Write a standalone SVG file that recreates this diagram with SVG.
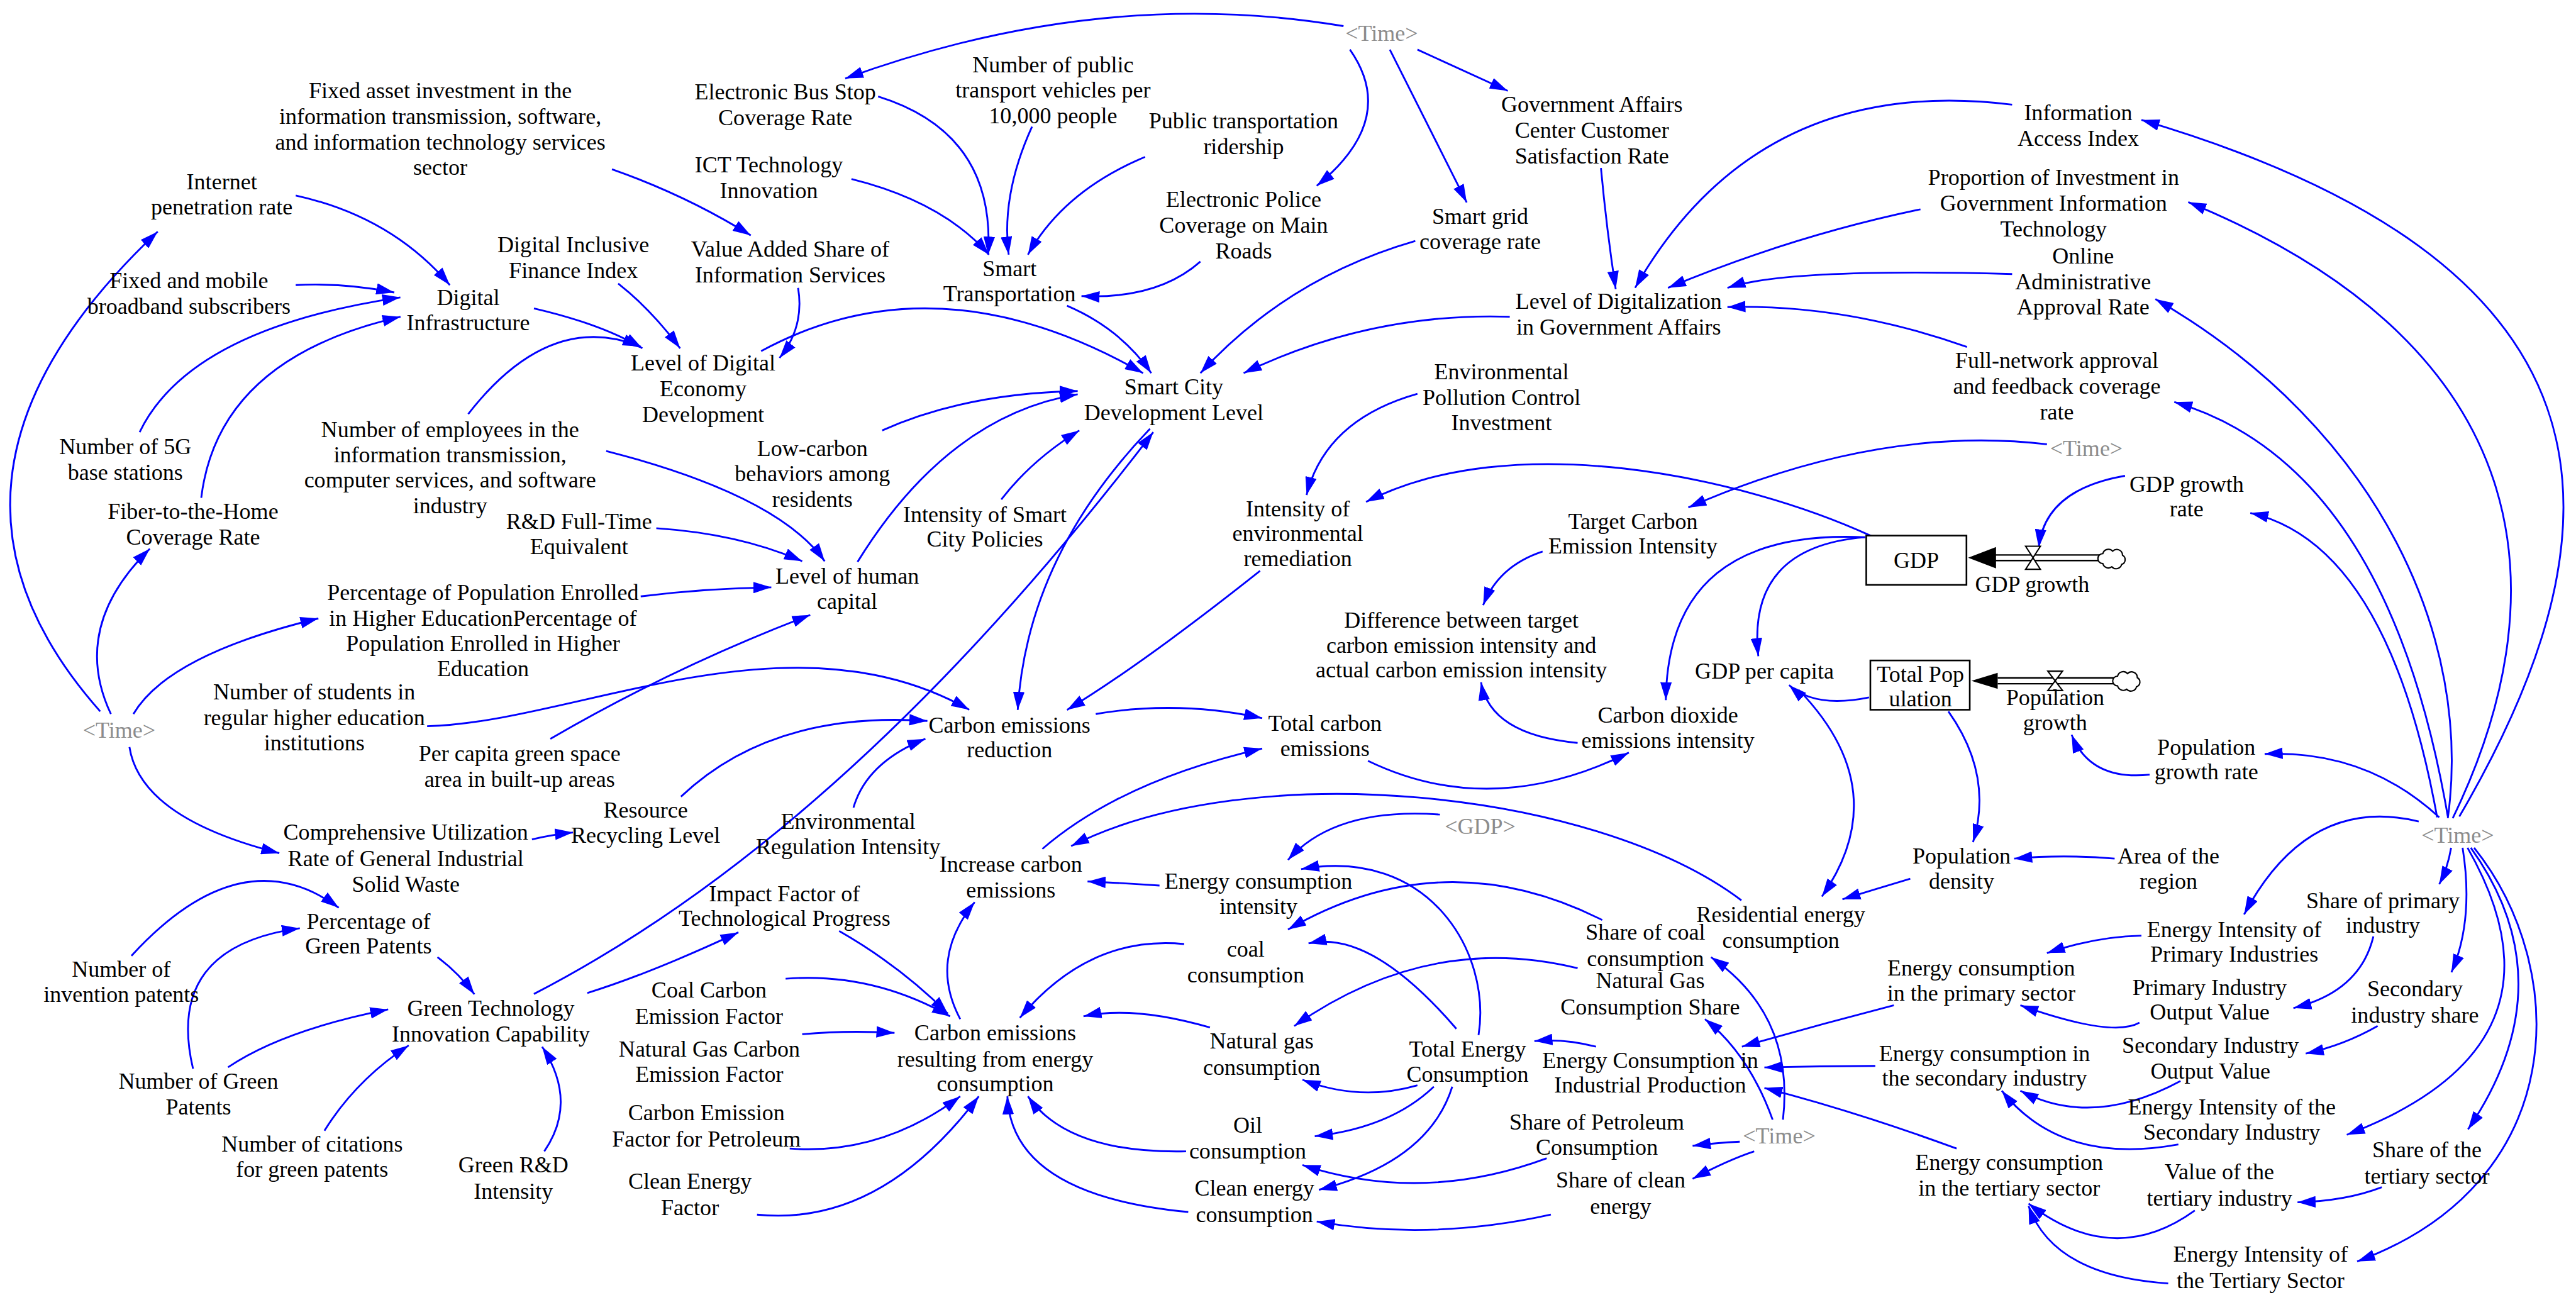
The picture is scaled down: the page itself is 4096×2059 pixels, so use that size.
<svg xmlns="http://www.w3.org/2000/svg" width="4096" height="2059" viewBox="0 0 4096 2059">
<style>
.t{font-family:"Liberation Serif","Times New Roman",serif;font-size:13.8px;fill:#000;text-anchor:middle}
.g{fill:#8c8c8c}
.c{fill:none;stroke:#0000ff;stroke-width:1.1;marker-end:url(#ah)}
.box{fill:#fff;stroke:#000;stroke-width:1}
.pipe{fill:none;stroke:#000;stroke-width:0.9}
.valve{fill:#fff;stroke:#000;stroke-width:0.8}
</style>
<defs>
<marker id="ah" viewBox="0 0 11 7" refX="11" refY="3.5" markerWidth="11" markerHeight="7" orient="auto" markerUnits="userSpaceOnUse"><path d="M0,0 L11,3.5 L0,7 z" fill="#0000ff"/></marker>
<path id="cloud" d="M-6,3 a3,3 0 0 1 0,-6 a3.5,3.5 0 0 1 6,-1.5 a3.5,3.5 0 0 1 6,2.5 a3,3 0 0 1 -0.5,5.5 a3.5,3.5 0 0 1 -6,1.5 a3.5,3.5 0 0 1 -5.5,-2 z" fill="#fff" stroke="#000" stroke-width="0.8"/>
</defs>
<rect width="4096" height="2059" fill="#fff"/>
<g transform="scale(2.6122)">
<g id="connectors">
<path class="c" d="M61,433 Q-64,292 96,141"/>
<path class="c" d="M67.5,434.6 Q42.6,381.7 91.2,334"/>
<path class="c" d="M81.2,434.6 Q102.5,398.5 193.8,376.4"/>
<path class="c" d="M78.8,454.7 Q85.6,498 170,519.3"/>
<path class="c" d="M85,263 Q115.6,200 243.7,181"/>
<path class="c" d="M122.5,303 Q132.8,218.1 243.8,192.8"/>
<path class="c" d="M180,173.5 Q210,172 240,178"/>
<path class="c" d="M180,119 Q238.1,131.7 273.8,173.5"/>
<path class="c" d="M325,187.7 Q366.5,197.3 391,212"/>
<path class="c" d="M376.3,172.6 Q396,188 414,212"/>
<path class="c" d="M285,252 Q334.5,188.5 390,211"/>
<path class="c" d="M372.5,103 Q418,119 457,143.3"/>
<path class="c" d="M485.8,175.2 Q489.8,199 474.5,217.9"/>
<path class="c" d="M463.3,213.7 Q570.4,155.6 695.8,227.1"/>
<path class="c" d="M649.5,186.1 Q682,200 700.8,227.1"/>
<path class="c" d="M861.5,146.7 Q783.9,169.1 730.7,227.1"/>
<path class="c" d="M919,192.8 Q834,190 757,227.1"/>
<path class="c" d="M730.7,159.2 Q704.5,182.3 658.3,180.2"/>
<path class="c" d="M534.5,58.7 Q606,80.9 601.5,155"/>
<path class="c" d="M628.2,77.1 Q609.3,118.6 614,155"/>
<path class="c" d="M697,95.5 Q647.6,116.1 625.7,155"/>
<path class="c" d="M518.3,109 Q573.8,122.8 602,155"/>
<path class="c" d="M817.8,15.9 Q669.8,-8.9 514.5,47.8"/>
<path class="c" d="M821.7,30.2 Q851.4,72.5 801.5,113.1"/>
<path class="c" d="M846,30.2 Q869,76 892.8,123.2"/>
<path class="c" d="M862.8,30.2 Q890,42.5 917.8,55.3"/>
<path class="c" d="M974.5,102.3 Q978,140 983.5,176"/>
<path class="c" d="M1224.8,63.7 Q1070,44.5 995.3,175.2"/>
<path class="c" d="M1169,127.4 Q1090.8,143.7 1015.3,175.2"/>
<path class="c" d="M1224.8,166.8 Q1087.8,163 1051.5,175.2"/>
<path class="c" d="M1197.3,211.2 Q1123.6,185 1051.5,186.9"/>
<path class="c" d="M1497,497 C1605,312.5 1596,159.4 1303.5,73"/>
<path class="c" d="M1493,498 C1555,370 1555,215 1332,123"/>
<path class="c" d="M1490,498 C1505,390 1450,262 1312,182"/>
<path class="c" d="M1490,497 Q1453.2,283.1 1323.5,244.7"/>
<path class="c" d="M1483.5,497.5 Q1453.3,331.1 1369.8,312.2"/>
<path class="c" d="M1484.8,497.5 Q1440.3,456.4 1378.5,458.9"/>
<path class="c" d="M1472.3,500 Q1404.8,483.7 1366,556.6"/>
<path class="c" d="M1492,516 Q1490,528 1484.8,538.2"/>
<path class="c" d="M1499,516 Q1506,560 1492.2,591.8"/>
<path class="c" d="M1502,516 Q1570.75,636.65 1428.5,690.7"/>
<path class="c" d="M1504,516 Q1562.8,598.3 1502.3,687.4"/>
<path class="c" d="M1506,516 C1565,590 1565,720 1434.8,767.8"/>
<path class="c" d="M1293.5,289.6 Q1244.75,298 1241,333.2"/>
<path class="c" d="M1308.5,471.5 Q1272.25,475.25 1261,447.2"/>
<path class="c" d="M1186,433 Q1213.5,471.8 1201,512.6"/>
<path class="c" d="M1287.2,522.6 Q1256,520 1226,522.6"/>
<path class="c" d="M1137.7,424.5 Q1104.65,431.25 1089,417"/>
<path class="c" d="M1135.3,327 Q1063.2,332.8 1070.3,399.4"/>
<path class="c" d="M1135.3,327 Q1015.35,321.4 1014,426.2"/>
<path class="c" d="M1246,270.4 Q1143.15,258.35 1027.7,308.9"/>
<path class="c" d="M1139,326.2 C1060,290 920,260 831.5,305.5"/>
<path class="c" d="M862.8,239.7 Q806.95,255.5 795.3,301.3"/>
<path class="c" d="M767,347.5 Q695.75,404 649.5,432.1"/>
<path class="c" d="M700,261 Q625.1,339.15 619.5,432.1"/>
<path class="c" d="M325,605 Q516.5,506 702,263"/>
<path class="c" d="M537,262 Q587,239.4 656,238"/>
<path class="c" d="M522,342 Q577,253 656,240"/>
<path class="c" d="M609.5,304 Q628,280 657,262"/>
<path class="c" d="M369,274.5 Q473.5,301.35 502,341.6"/>
<path class="c" d="M399.5,321.5 Q450.1,324.85 488.3,341.6"/>
<path class="c" d="M390,363 Q430,358 469.5,357.5"/>
<path class="c" d="M335,449.7 Q410,406 493.2,374.3"/>
<path class="c" d="M260,442 C350,440 480,370 590,432"/>
<path class="c" d="M414.5,484.9 Q469.5,432.55 564.5,438.8"/>
<path class="c" d="M519.5,491.6 Q527.6,463.95 563.3,449.7"/>
<path class="c" d="M323.8,510.9 Q336,508 348.8,506.7"/>
<path class="c" d="M667,434.6 Q717,426 768.3,437.1"/>
<path class="c" d="M634.5,516.7 Q682.6,475.25 768.3,455.6"/>
<path class="c" d="M832.7,463.1 Q907.9,499.4 991.5,458.1"/>
<path class="c" d="M960.3,452.2 Q907.1,447.25 901.5,415.3"/>
<path class="c" d="M939,335.7 Q912.1,344.55 902.8,368.4"/>
<path class="c" d="M1060,548 C970,480 760,460 652,515"/>
<path class="c" d="M705.8,539 Q684,537.5 662,536.5"/>
<path class="c" d="M876.5,495.8 Q812.75,491.2 784,523.4"/>
<path class="c" d="M900,630 C908,580 870,515 792,529"/>
<path class="c" d="M975.3,560 Q878.35,511.1 784,565.8"/>
<path class="c" d="M886.5,626.2 Q834.5,565.8 796.5,574.2"/>
<path class="c" d="M960.3,589.3 Q869.95,567.1 787.8,624.5"/>
<path class="c" d="M862.8,660.6 Q827.8,670.7 792.8,657.2"/>
<path class="c" d="M872.8,661.4 Q846.45,686.5 800.3,691.6"/>
<path class="c" d="M884,661.4 Q869.6,707.2 802.8,724.2"/>
<path class="c" d="M941.5,705 Q865.85,732.95 792.8,709.1"/>
<path class="c" d="M944,739.3 Q870.25,755.6 801.5,743.5"/>
<path class="c" d="M1085.3,681.5 Q1092.6,617.95 1041.5,582.6"/>
<path class="c" d="M1079,681.5 Q1064.6,641.7 1037.8,620.3"/>
<path class="c" d="M1059,694.9 Q1045,695.5 1030.3,697.4"/>
<path class="c" d="M1067.8,700.8 Q1052,706 1030.3,717.5"/>
<path class="c" d="M971.5,637.1 Q952,632 934,633.7"/>
<path class="c" d="M1152.8,611.9 Q1106,624 1060.3,637.1"/>
<path class="c" d="M1141.5,648.8 Q1108,649 1074,649.7"/>
<path class="c" d="M1191,699.1 Q1128,676 1074,662.2"/>
<path class="c" d="M1303.5,569.5 Q1276,570 1246,580.1"/>
<path class="c" d="M1302.3,622.5 Q1285.95,631.8 1229.8,611.9"/>
<path class="c" d="M1444.7,570 Q1436.65,603.6 1396,613.6"/>
<path class="c" d="M1447.3,624.5 Q1426.6,636.3 1403.5,641.3"/>
<path class="c" d="M1327.3,658 Q1273.45,687.05 1229.8,663.9"/>
<path class="c" d="M1326,696.6 Q1254.75,709.55 1218.5,663.9"/>
<path class="c" d="M1449.8,722.6 Q1428,731 1398.5,731.8"/>
<path class="c" d="M1336,736.8 Q1286.6,772.5 1234.8,732.6"/>
<path class="c" d="M1319.8,781.2 Q1249.7,776.4 1234.8,734"/>
<path class="c" d="M1095,420 Q1154,481.15 1109,545.7"/>
<path class="c" d="M1162.8,534.8 Q1142,541 1121.5,547.4"/>
<path class="c" d="M720.8,574.6 Q663.2,568.95 620.8,619.5"/>
<path class="c" d="M736.5,625.4 Q690,612 659.5,618.6"/>
<path class="c" d="M722,700.8 Q650.15,702.35 625.7,667.3"/>
<path class="c" d="M723.3,737.7 Q615.75,727.5 613.2,667.3"/>
<path class="c" d="M478.2,595.7 Q530.75,591.65 578.3,618.6"/>
<path class="c" d="M488.3,629.5 Q516,627 544.5,628.7"/>
<path class="c" d="M480.7,699.1 Q536.4,703.2 584.5,667.3"/>
<path class="c" d="M460.8,739.3 Q535.7,746.9 595.8,667.3"/>
<path class="c" d="M510.8,566.7 Q548,588 577,617"/>
<path class="c" d="M357.5,604.4 Q395.5,592.65 449.5,567.5"/>
<path class="c" d="M584.5,620.3 Q565.1,583.9 593.3,549.1"/>
<path class="c" d="M80,581.8 Q146.9,508.85 206.2,552.5"/>
<path class="c" d="M117.5,650.5 Q100,576.25 182.5,565"/>
<path class="c" d="M138.8,649.6 Q172.45,627 236.3,614.4"/>
<path class="c" d="M266.3,582.6 Q279,592 288.8,605.2"/>
<path class="c" d="M197.5,688.2 Q216.85,657.15 248.8,636.3"/>
<path class="c" d="M331.3,700.8 Q351.95,670.65 330,637.1"/>
</g>
<g id="flow-gdp-growth">
<path class="pipe" d="M1214,337.8 H1280 M1214,341.2 H1280"/>
<path d="M1198,339.5 L1215,333 L1215,346 z" fill="#000"/>
<path class="valve" d="M1233,332.5 H1242 L1237.5,339.5 Z M1233,346.5 H1242 L1237.5,339.5 Z"/>
<use href="#cloud" x="1286" y="340"/>
<text class="t" x="1237" y="360.3">GDP growth</text>
</g>
<g id="flow-population-growth">
<path class="pipe" d="M1216,412.6 H1288 M1216,416.2 H1288"/>
<path d="M1200,414.4 L1216,409.5 L1216,419.3 z" fill="#000"/>
<path class="valve" d="M1246.5,408.5 H1255.5 L1251,414.4 Z M1246.5,420.3 H1255.5 L1251,414.4 Z"/>
<use href="#cloud" x="1295" y="414.5"/>
<text class="t" x="1251" y="429">Population<tspan x="1251" dy="15.6">growth</tspan></text>
</g>
<g id="n-gdp"><rect class="box" x="1136" y="326" width="61" height="30"/><text class="t" x="1166.5" y="345.5">GDP</text></g>
<g id="n-total-population"><rect class="box" x="1138.5" y="402" width="60.5" height="30"/><text class="t" x="1169" y="414.8">Total Pop<tspan x="1169" dy="15.2">ulation</tspan></text></g>
<g id="n-fixed-asset"><text class="t" x="268" y="59.8">Fixed asset investment in the<tspan x="268" dy="15.6">information transmission, software,</tspan><tspan x="268" dy="15.6">and information technology services</tspan><tspan x="268" dy="15.6">sector</tspan></text></g>
<g id="n-internet"><text class="t" x="135" y="115.1">Internet<tspan x="135" dy="15.6">penetration rate</tspan></text></g>
<g id="n-fixed-mobile"><text class="t" x="115" y="175.5">Fixed and mobile<tspan x="115" dy="15.6">broadband subscribers</tspan></text></g>
<g id="n-digital-infra"><text class="t" x="285" y="185.5">Digital<tspan x="285" dy="15.6">Infrastructure</tspan></text></g>
<g id="n-dif-index"><text class="t" x="349" y="153.5">Digital Inclusive<tspan x="349" dy="15.6">Finance Index</tspan></text></g>
<g id="n-bus-stop"><text class="t" x="478" y="60.6">Electronic Bus Stop<tspan x="478" dy="15.6">Coverage Rate</tspan></text></g>
<g id="n-public-vehicles"><text class="t" x="641" y="43.9">Number of public<tspan x="641" dy="15.6">transport vehicles per</tspan><tspan x="641" dy="15.6">10,000 people</tspan></text></g>
<g id="n-ridership"><text class="t" x="757" y="78.2">Public transportation<tspan x="757" dy="15.6">ridership</tspan></text></g>
<g id="n-ict"><text class="t" x="468" y="105">ICT Technology<tspan x="468" dy="15.6">Innovation</tspan></text></g>
<g id="n-value-added"><text class="t" x="481" y="156.2">Value Added Share of<tspan x="481" dy="15.6">Information Services</tspan></text></g>
<g id="n-smart-transport"><text class="t" x="614.5" y="167.9">Smart<tspan x="614.5" dy="15.6">Transportation</tspan></text></g>
<g id="n-police"><text class="t" x="757" y="126.1">Electronic Police<tspan x="757" dy="15.6">Coverage on Main</tspan><tspan x="757" dy="15.6">Roads</tspan></text></g>
<g id="n-scdl"><text class="t" x="714.5" y="240">Smart City<tspan x="714.5" dy="15.6">Development Level</tspan></text></g>
<g id="n-lded"><text class="t" x="428" y="225.5">Level of Digital<tspan x="428" dy="15.6">Economy</tspan><tspan x="428" dy="15.6">Development</tspan></text></g>
<g id="n-time-top"><text class="t g" x="841" y="25">&lt;Time&gt;</text></g>
<g id="n-smart-grid"><text class="t" x="901" y="136.1">Smart grid<tspan x="901" dy="15.6">coverage rate</tspan></text></g>
<g id="n-gov-center"><text class="t" x="969" y="68.2">Government Affairs<tspan x="969" dy="15.6">Center Customer</tspan><tspan x="969" dy="15.6">Satisfaction Rate</tspan></text></g>
<g id="n-ldga"><text class="t" x="985.3" y="188">Level of Digitalization<tspan x="985.3" dy="15.6">in Government Affairs</tspan></text></g>
<g id="n-info-access"><text class="t" x="1265" y="73.2">Information<tspan x="1265" dy="15.6">Access Index</tspan></text></g>
<g id="n-prop-invest"><text class="t" x="1250" y="112.6">Proportion of Investment in<tspan x="1250" dy="15.6">Government Information</tspan><tspan x="1250" dy="15.6">Technology</tspan></text></g>
<g id="n-online-admin"><text class="t" x="1268" y="160.4">Online<tspan x="1268" dy="15.6">Administrative</tspan><tspan x="1268" dy="15.6">Approval Rate</tspan></text></g>
<g id="n-full-network"><text class="t" x="1252" y="224.1">Full-network approval<tspan x="1252" dy="15.6">and feedback coverage</tspan><tspan x="1252" dy="15.6">rate</tspan></text></g>
<g id="n-env-pollution"><text class="t" x="914" y="230.8">Environmental<tspan x="914" dy="15.6">Pollution Control</tspan><tspan x="914" dy="15.6">Investment</tspan></text></g>
<g id="n-5g"><text class="t" x="76.3" y="276.5">Number of 5G<tspan x="76.3" dy="15.6">base stations</tspan></text></g>
<g id="n-fiber"><text class="t" x="117.5" y="316">Fiber-to-the-Home<tspan x="117.5" dy="15.6">Coverage Rate</tspan></text></g>
<g id="n-employees"><text class="t" x="274" y="266">Number of employees in the<tspan x="274" dy="15.4">information transmission,</tspan><tspan x="274" dy="15.4">computer services, and software</tspan><tspan x="274" dy="15.4">industry</tspan></text></g>
<g id="n-rd-fte"><text class="t" x="352.5" y="321.8">R&amp;D Full-Time<tspan x="352.5" dy="15.6">Equivalent</tspan></text></g>
<g id="n-pct-enrolled"><text class="t" x="294" y="365.4">Percentage of Population Enrolled<tspan x="294" dy="15.4">in Higher EducationPercentage of</tspan><tspan x="294" dy="15.4">Population Enrolled in Higher</tspan><tspan x="294" dy="15.4">Education</tspan></text></g>
<g id="n-time-left"><text class="t g" x="72.5" y="449.2">&lt;Time&gt;</text></g>
<g id="n-students"><text class="t" x="191.3" y="425.7">Number of students in<tspan x="191.3" dy="15.5">regular higher education</tspan><tspan x="191.3" dy="15.5">institutions</tspan></text></g>
<g id="n-green-space"><text class="t" x="316.3" y="463.4">Per capita green space<tspan x="316.3" dy="15.6">area in built-up areas</tspan></text></g>
<g id="n-comp-util"><text class="t" x="247" y="511.2">Comprehensive Utilization<tspan x="247" dy="15.8">Rate of General Industrial</tspan><tspan x="247" dy="15.8">Solid Waste</tspan></text></g>
<g id="n-resource"><text class="t" x="393" y="497.7">Resource<tspan x="393" dy="15.2">Recycling Level</tspan></text></g>
<g id="n-low-carbon"><text class="t" x="494.5" y="277.4">Low-carbon<tspan x="494.5" dy="15.6">behaviors among</tspan><tspan x="494.5" dy="15.6">residents</tspan></text></g>
<g id="n-smart-policy"><text class="t" x="599.5" y="317.6">Intensity of Smart<tspan x="599.5" dy="15.2">City Policies</tspan></text></g>
<g id="n-lhc"><text class="t" x="515.7" y="355.3">Level of human<tspan x="515.7" dy="15.2">capital</tspan></text></g>
<g id="n-cer"><text class="t" x="614.5" y="445.8">Carbon emissions<tspan x="614.5" dy="15.2">reduction</tspan></text></g>
<g id="n-env-reg"><text class="t" x="516.3" y="504.5">Environmental<tspan x="516.3" dy="15.2">Regulation Intensity</tspan></text></g>
<g id="n-total-carbon"><text class="t" x="806.5" y="445">Total carbon<tspan x="806.5" dy="15.2">emissions</tspan></text></g>
<g id="n-remediation"><text class="t" x="790" y="314.2">Intensity of<tspan x="790" dy="15.2">environmental</tspan><tspan x="790" dy="15.2">remediation</tspan></text></g>
<g id="n-time-mid"><text class="t g" x="1270" y="277.7">&lt;Time&gt;</text></g>
<g id="n-target-ci"><text class="t" x="994" y="321.8">Target Carbon<tspan x="994" dy="15.2">Emission Intensity</tspan></text></g>
<g id="n-gdp-growth-rate"><text class="t" x="1331" y="299.2">GDP growth<tspan x="1331" dy="15.2">rate</tspan></text></g>
<g id="n-pop-growth-rate"><text class="t" x="1343" y="459.2">Population<tspan x="1343" dy="15.2">growth rate</tspan></text></g>
<g id="n-gdp-pc"><text class="t" x="1074" y="413.1">GDP per capita</text></g>
<g id="n-difference"><text class="t" x="889.5" y="382.2">Difference between target<tspan x="889.5" dy="15.1">carbon emission intensity and</tspan><tspan x="889.5" dy="15.1">actual carbon emission intensity</tspan></text></g>
<g id="n-co2-intensity"><text class="t" x="1015.3" y="439.9">Carbon dioxide<tspan x="1015.3" dy="15.2">emissions intensity</tspan></text></g>
<g id="n-gdp-shadow"><text class="t g" x="901" y="507.8">&lt;GDP&gt;</text></g>
<g id="n-time-right"><text class="t g" x="1496" y="512.8">&lt;Time&gt;</text></g>
<g id="n-area-region"><text class="t" x="1320" y="525.5">Area of the<tspan x="1320" dy="15.5">region</tspan></text></g>
<g id="n-pop-density"><text class="t" x="1194" y="525.5">Population<tspan x="1194" dy="15.5">density</tspan></text></g>
<g id="n-residential"><text class="t" x="1084" y="561.1">Residential energy<tspan x="1084" dy="15.9">consumption</tspan></text></g>
<g id="n-share-coal"><text class="t" x="1001.6" y="572">Share of coal<tspan x="1001.6" dy="15.9">consumption</tspan></text></g>
<g id="n-ng-share"><text class="t" x="1004.5" y="601.3">Natural Gas<tspan x="1004.5" dy="16">Consumption Share</tspan></text></g>
<g id="n-tec"><text class="t" x="893.3" y="643.3">Total Energy<tspan x="893.3" dy="15.1">Consumption</tspan></text></g>
<g id="n-ecip"><text class="t" x="1004.5" y="650">Energy Consumption in<tspan x="1004.5" dy="15.1">Industrial Production</tspan></text></g>
<g id="n-share-petro"><text class="t" x="972" y="687.7">Share of Petroleum<tspan x="972" dy="15.1">Consumption</tspan></text></g>
<g id="n-time-bottom"><text class="t g" x="1083" y="696">&lt;Time&gt;</text></g>
<g id="n-share-clean"><text class="t" x="986.5" y="722.9">Share of clean<tspan x="986.5" dy="15.9">energy</tspan></text></g>
<g id="n-oil"><text class="t" x="759.5" y="689.3">Oil<tspan x="759.5" dy="16">consumption</tspan></text></g>
<g id="n-clean-cons"><text class="t" x="763.6" y="727.9">Clean energy<tspan x="763.6" dy="15.9">consumption</tspan></text></g>
<g id="n-ng-cons"><text class="t" x="768" y="638.2">Natural gas<tspan x="768" dy="16">consumption</tspan></text></g>
<g id="n-coal-cons"><text class="t" x="758.3" y="582.1">coal<tspan x="758.3" dy="15.9">consumption</tspan></text></g>
<g id="n-eci"><text class="t" x="766" y="541">Energy consumption<tspan x="766" dy="15.1">intensity</tspan></text></g>
<g id="n-increase"><text class="t" x="615.3" y="530.5">Increase carbon<tspan x="615.3" dy="15.6">emissions</tspan></text></g>
<g id="n-impact"><text class="t" x="477.5" y="548.5">Impact Factor of<tspan x="477.5" dy="15.1">Technological Progress</tspan></text></g>
<g id="n-coal-factor"><text class="t" x="431.6" y="607.2">Coal Carbon<tspan x="431.6" dy="15.9">Emission Factor</tspan></text></g>
<g id="n-ng-factor"><text class="t" x="431.8" y="643.3">Natural Gas Carbon<tspan x="431.8" dy="15.1">Emission Factor</tspan></text></g>
<g id="n-petro-factor"><text class="t" x="430" y="681.8">Carbon Emission<tspan x="430" dy="15.9">Factor for Petroleum</tspan></text></g>
<g id="n-clean-factor"><text class="t" x="420" y="723.7">Clean Energy<tspan x="420" dy="15.9">Factor</tspan></text></g>
<g id="n-cere"><text class="t" x="605.8" y="633.2">Carbon emissions<tspan x="605.8" dy="15.9">resulting from energy</tspan><tspan x="605.8" dy="15.1">consumption</tspan></text></g>
<g id="n-pct-green"><text class="t" x="224.3" y="565.3">Percentage of<tspan x="224.3" dy="15.1">Green Patents</tspan></text></g>
<g id="n-invention"><text class="t" x="73.8" y="594.6">Number of<tspan x="73.8" dy="15.1">invention patents</tspan></text></g>
<g id="n-gtic"><text class="t" x="298.8" y="618.1">Green Technology<tspan x="298.8" dy="15.9">Innovation Capability</tspan></text></g>
<g id="n-green-patents"><text class="t" x="120.8" y="662.5">Number of Green<tspan x="120.8" dy="16">Patents</tspan></text></g>
<g id="n-citations"><text class="t" x="190" y="701.1">Number of citations<tspan x="190" dy="15.1">for green patents</tspan></text></g>
<g id="n-green-rd"><text class="t" x="312.5" y="713.7">Green R&amp;D<tspan x="312.5" dy="15.8">Intensity</tspan></text></g>
<g id="n-share-primary"><text class="t" x="1450.5" y="552.8">Share of primary<tspan x="1450.5" dy="15">industry</tspan></text></g>
<g id="n-ei-primary"><text class="t" x="1360" y="570.3">Energy Intensity of<tspan x="1360" dy="15.2">Primary Industries</tspan></text></g>
<g id="n-ec-primary"><text class="t" x="1206" y="593.8">Energy consumption<tspan x="1206" dy="15.1">in the primary sector</tspan></text></g>
<g id="n-primary-output"><text class="t" x="1345" y="605.5">Primary Industry<tspan x="1345" dy="15.1">Output Value</tspan></text></g>
<g id="n-secondary-share"><text class="t" x="1470" y="606.4">Secondary<tspan x="1470" dy="15.9">industry share</tspan></text></g>
<g id="n-secondary-output"><text class="t" x="1345.5" y="640.7">Secondary Industry<tspan x="1345.5" dy="16">Output Value</tspan></text></g>
<g id="n-ec-secondary"><text class="t" x="1208" y="645.8">Energy consumption in<tspan x="1208" dy="15.1">the secondary industry</tspan></text></g>
<g id="n-ei-secondary"><text class="t" x="1358.5" y="678.5">Energy Intensity of the<tspan x="1358.5" dy="15">Secondary Industry</tspan></text></g>
<g id="n-share-tertiary"><text class="t" x="1477.3" y="704.5">Share of the<tspan x="1477.3" dy="15.9">tertiary sector</tspan></text></g>
<g id="n-tertiary-value"><text class="t" x="1351" y="717.8">Value of the<tspan x="1351" dy="16">tertiary industry</tspan></text></g>
<g id="n-ec-tertiary"><text class="t" x="1223" y="712">Energy consumption<tspan x="1223" dy="15.9">in the tertiary sector</tspan></text></g>
<g id="n-ei-tertiary"><text class="t" x="1376" y="768.1">Energy Intensity of<tspan x="1376" dy="16">the Tertiary Sector</tspan></text></g>
</g>
</svg>
